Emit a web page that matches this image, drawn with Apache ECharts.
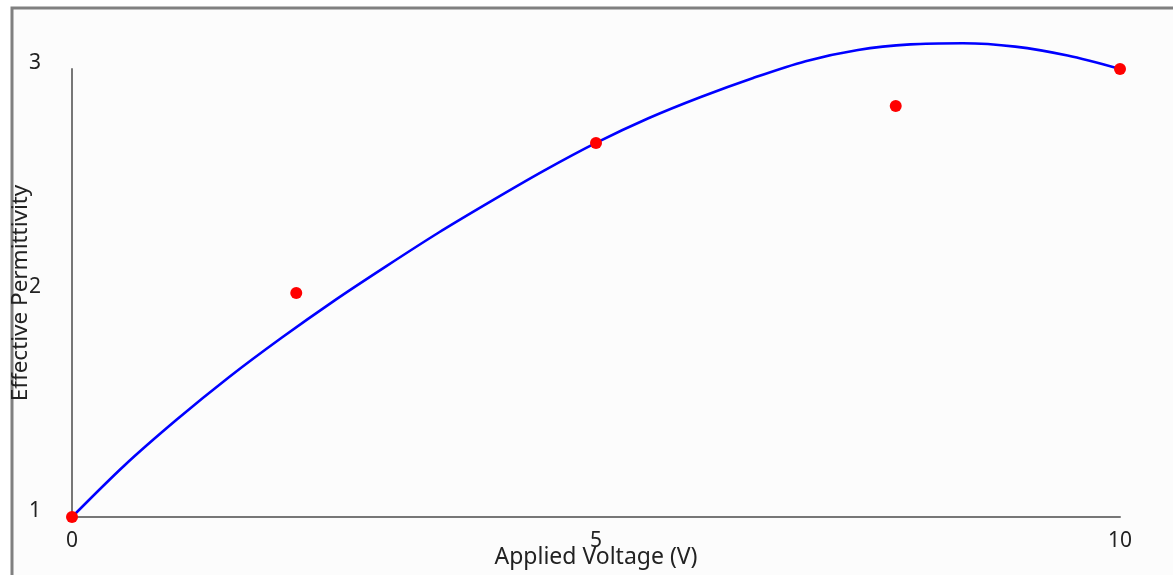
<!DOCTYPE html>
<html>
<head>
<meta charset="utf-8">
<script src="https://cdn.jsdelivr.net/npm/echarts@6/dist/echarts.min.js"></script>
<style>
html,body{margin:0;padding:0;background:#fff;}
#c{width:1173px;height:575px;}
</style>
</head>
<body>
<div id="c"></div>
<script>
// Measured data points
const measuredX = [0, 2.14, 5, 7.86, 10];
const measuredY = [1.0, 2.0, 2.67, 2.835, 3.0];
// Fitted curve samples
const curveX = [0, 0.5, 1, 1.5, 2, 2.5, 3, 3.5, 4, 4.5, 5, 5.5, 6, 6.5, 7, 7.5, 8, 8.5, 9, 9.5, 10];
const curveY = [1.0, 1.23, 1.435, 1.625, 1.80, 1.965, 2.12, 2.27, 2.41, 2.545, 2.67, 2.78, 2.875, 2.96, 3.035, 3.085, 3.11, 3.115, 3.10, 3.06, 3.0];
const xTicks = [0, 5, 10];
const yTicks = [1, 2, 3];
const xTitle = 'Applied Voltage (V)';
const yTitle = 'Effective Permittivity';

const FONT = '"Noto Sans", "Open Sans", sans-serif';
const chart = echarts.init(document.getElementById('c'), null, {renderer: 'canvas'});
chart.setOption({
  animation: false,
  backgroundColor: '#ffffff',
  graphic: [{
    type: 'rect', z: -10, silent: true,
    shape: {x: 12, y: 8, width: 1300, height: 700},
    style: {fill: '#fcfcfc', stroke: '#808080', lineWidth: 3}
  }],
  grid: {left: 72, right: 53, top: 69, bottom: 58, containLabel: false, outerBoundsMode: 'none'},
  xAxis: {
    type: 'value', min: xTicks[0], max: xTicks[xTicks.length - 1], interval: 5,
    name: xTitle, nameLocation: 'middle', nameGap: 29, nameMoveOverlap: false,
    nameTextStyle: {color: '#222', fontSize: 23, fontFamily: FONT},
    axisLine: {show: true, lineStyle: {color: '#777777', width: 2}},
    axisTick: {show: false},
    splitLine: {show: false},
    axisLabel: {color: '#222', fontSize: 21, fontFamily: FONT, margin: 14,
      formatter: v => xTicks.includes(v) ? String(v) : ''}
  },
  yAxis: {
    type: 'value', min: yTicks[0], max: yTicks[yTicks.length - 1], interval: 1,
    name: yTitle, nameLocation: 'middle', nameGap: 40, nameRotate: 90, nameMoveOverlap: false,
    nameTextStyle: {color: '#222', fontSize: 22.5, fontFamily: FONT},
    axisLine: {show: true, lineStyle: {color: '#777777', width: 2}},
    axisTick: {show: false},
    splitLine: {show: false},
    axisLabel: {color: '#222', fontSize: 21, fontFamily: FONT, margin: 37, align: 'center',
      verticalAlign: 'bottom', lineHeight: 12,
      formatter: v => yTicks.includes(v) ? String(v) : ''}
  },
  series: [
    {
      type: 'line', data: curveX.map((x, i) => [x, curveY[i]]),
      smooth: 0.3, showSymbol: false, symbol: 'none', clip: false,
      lineStyle: {color: '#0000ff', width: 2.6}, z: 2
    },
    {
      type: 'scatter', data: measuredX.map((x, i) => [x, measuredY[i]]),
      symbol: 'circle', symbolSize: 12, clip: false,
      itemStyle: {color: '#ff0000', opacity: 1}, z: 3
    }
  ]
});
</script>
</body>
</html>
